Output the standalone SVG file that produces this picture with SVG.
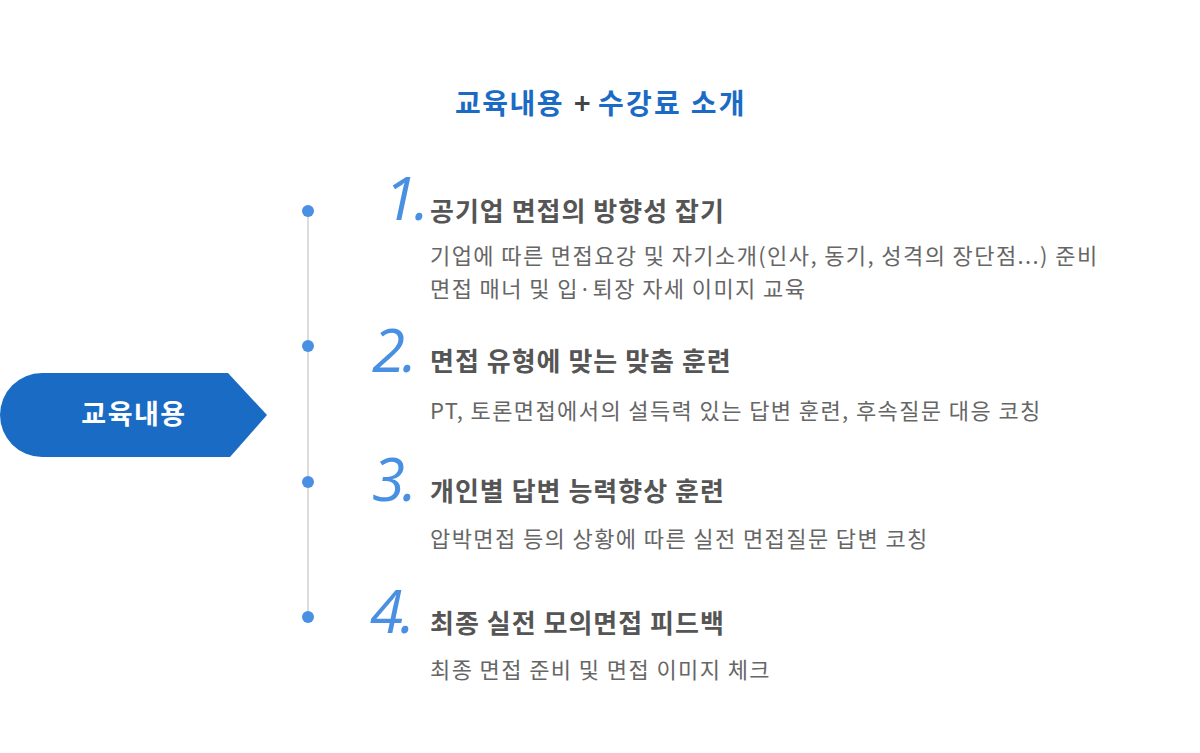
<svg xmlns="http://www.w3.org/2000/svg" width="1200" height="753" viewBox="0 0 1200 753">
<style>
text{font-family:"Noto Sans CJK KR","Noto Sans",sans-serif}
.t{font-size:28px;font-weight:700;fill:#1b6bc5;letter-spacing:1.5px}
.num{font-family:"Open Sans","Noto Sans",sans-serif;font-size:60px;font-style:italic;font-weight:400;fill:#4a90e2;letter-spacing:-3px}
.h{font-size:26px;font-weight:700;fill:#555;letter-spacing:1px}
.d{font-size:22px;fill:#666;letter-spacing:1.4px}
.dot{fill:#4a90e2}
</style>
<rect width="1200" height="753" fill="#fff"/>
<g id="title"><text y="114" class="t"><tspan x="455">교육내용</tspan><tspan x="574" fill="#444">+</tspan><tspan x="598" textLength="148">수강료 소개</tspan></text></g>
<g id="label">
<path d="M42,373 H228 L267,415 L230,457 H42 A42,42 0 0 1 42,373 Z" fill="#1a6bc4"/>
<text x="134" y="424" text-anchor="middle" font-size="27" font-weight="700" fill="#fff" letter-spacing="1.5">교육내용</text>
</g>
<g id="connectors"><line x1="308" y1="211" x2="308" y2="617" stroke="#d0d0d0" stroke-width="1.5"/></g>
<g id="item1"><circle class="dot" cx="308" cy="211" r="6"/>
<text class="num" x="384" y="220">1.</text>
<text class="h" x="430" y="221">공기업 면접의 방향성 잡기</text>
<text class="d" x="430" y="264">기업에 따른 면접요강 및 자기소개(인사, 동기, 성격의 장단점...) 준비</text>
<text class="d" x="430" y="297">면접 매너 및 입·퇴장 자세 이미지 교육</text></g>
<g id="item2"><circle class="dot" cx="308" cy="346" r="6"/>
<text class="num" x="372" y="372">2.</text>
<text class="h" x="430" y="371">면접 유형에 맞는 맞춤 훈련</text>
<text class="d" x="430" y="419">PT, 토론면접에서의 설득력 있는 답변 훈련, 후속질문 대응 코칭</text></g>
<g id="item3"><circle class="dot" cx="308" cy="482" r="6"/>
<text class="num" x="372" y="501">3.</text>
<text class="h" x="430" y="501">개인별 답변 능력향상 훈련</text>
<text class="d" x="430" y="547">압박면접 등의 상황에 따른 실전 면접질문 답변 코칭</text></g>
<g id="item4"><circle class="dot" cx="308" cy="617" r="6"/>
<text class="num" x="370" y="633">4.</text>
<text class="h" x="430" y="633">최종 실전 모의면접 피드백</text>
<text class="d" x="430" y="678">최종 면접 준비 및 면접 이미지 체크</text></g>
</svg>
